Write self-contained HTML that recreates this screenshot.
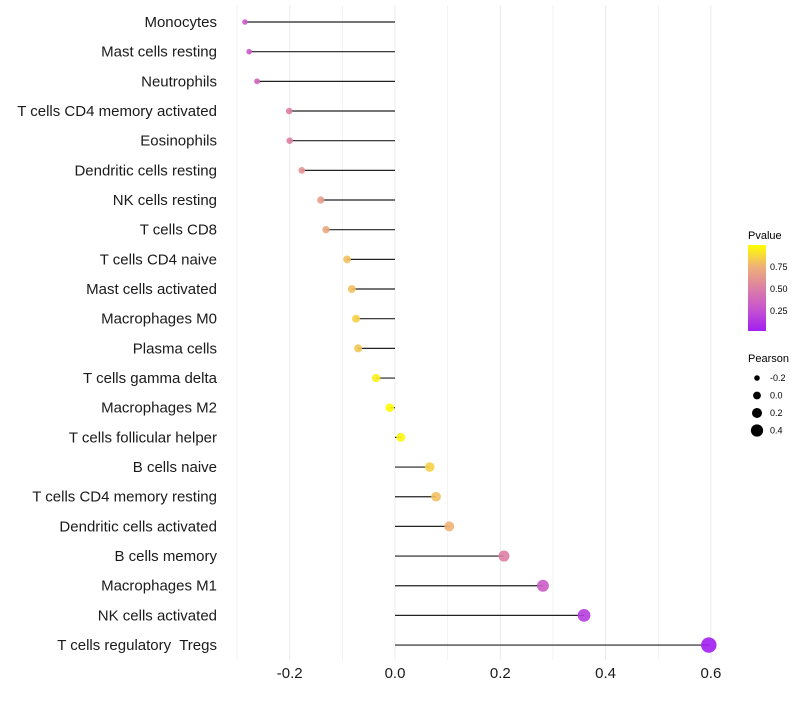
<!DOCTYPE html>
<html><head><meta charset="utf-8"><style>
body{margin:0;background:#fff;font-family:"Liberation Sans",sans-serif}
text{white-space:pre}
</style></head><body>
<svg id="chart" width="800" height="700" xmlns="http://www.w3.org/2000/svg">
<defs><linearGradient id="pg" x1="0" y1="1" x2="0" y2="0">
<stop offset="0" stop-color="#a21ff0"/><stop offset="0.25" stop-color="#c653d0"/><stop offset="0.5" stop-color="#dc80a4"/><stop offset="0.75" stop-color="#efb177"/><stop offset="1" stop-color="#ffff00"/></linearGradient></defs>
<g id="grid"></g><g id="marks"></g><g id="labels"></g><g id="ticks"></g>
<g>
<text x="748" y="239" font-size="11">Pvalue</text>
<rect x="748" y="245" width="18" height="86" fill="url(#pg)"/>
<text x="770" y="270" font-size="9">0.75</text>
<text x="770" y="292" font-size="9">0.50</text>
<text x="770" y="314" font-size="9">0.25</text>
</g>
<g id="sizeLegend">
<text x="748" y="362" font-size="11">Pearson</text>
</g>
</svg>
<script>
const categories=["Monocytes","Mast cells resting","Neutrophils","T cells CD4 memory activated","Eosinophils","Dendritic cells resting","NK cells resting","T cells CD8","T cells CD4 naive","Mast cells activated","Macrophages M0","Plasma cells","T cells gamma delta","Macrophages M2","T cells follicular helper","B cells naive","T cells CD4 memory resting","Dendritic cells activated","B cells memory","Macrophages M1","NK cells activated","T cells regulatory  Tregs"];
const pearson=[-0.285,-0.277,-0.262,-0.201,-0.2,-0.177,-0.141,-0.131,-0.091,-0.082,-0.074,-0.070,-0.036,-0.010,0.011,0.066,0.078,0.103,0.207,0.281,0.359,0.596];
const pvalues=[0.3,0.3,0.35,0.5,0.5,0.6,0.65,0.7,0.8,0.8,0.85,0.82,0.95,0.98,0.97,0.85,0.8,0.75,0.5,0.3,0.15,0.01];
const xTicks=[-0.2,0,0.2,0.4,0.6];
const xTickLabels=["-0.2","0.0","0.2","0.4","0.6"];
const sizeBreaks=[-0.2,0,0.2,0.4];
const NS="http://www.w3.org/2000/svg";
const x=v=>395+v*526.5;
const y=i=>22+i*29.67;
const r=p=>Math.max(1.8,4.4+5.6*p);
const stops=[[0,[160,28,242]],[0.25,[198,83,208]],[0.5,[220,128,164]],[0.75,[239,177,119]],[1,[255,255,0]]];
function col(p){for(let k=1;k<stops.length;k++){if(p<=stops[k][0]){const a=stops[k-1],b=stops[k],t=(p-a[0])/(b[0]-a[0]);return "rgb("+a[1].map((c,j)=>Math.round(c+(b[1][j]-c)*t)).join(",")+")";}}return "rgb(255,255,0)";}
function mk(t,at,parent){const e=document.createElementNS(NS,t);for(const k in at)e.setAttribute(k,at[k]);parent.appendChild(e);return e;}
const grid=document.getElementById('grid'),marks=document.getElementById('marks'),labels=document.getElementById('labels'),ticks=document.getElementById('ticks');
for(let g=-0.3;g<=0.61;g+=0.1){const l=mk('line',{x1:x(g),x2:x(g),y1:5,y2:660,stroke:'#ebebeb','stroke-width':Math.abs(Math.round(g*10))%2==0?1:0.6},grid);

}
categories.forEach((c,i)=>{
 const s=mk('line',{x1:x(0),x2:x(pearson[i]),y1:y(i),y2:y(i),stroke:'#222','stroke-width':1.2},marks);
 
 
 const d=mk('circle',{cx:x(pearson[i]),cy:y(i),r:r(pearson[i]),fill:col(pvalues[i]),opacity:0.9},marks);
 
 
 const t=mk('text',{x:217,y:y(i)+5,'font-size':15,'text-anchor':'end',fill:'#1a1a1a'},labels);t.textContent=c;
 
 
});
xTicks.forEach((v,i)=>{const t=mk('text',{x:x(v),y:678,'font-size':15,'text-anchor':'middle',fill:'#1a1a1a'},ticks);t.textContent=xTickLabels[i];
 
 });
const sl=document.getElementById('sizeLegend');
sizeBreaks.forEach((p,i)=>{const c=mk('circle',{cx:757,cy:378+i*17.5,r:r(p)-0.5,fill:'#000'},sl);
 
 
 const t=mk('text',{x:770,y:381+i*17.5,'font-size':9},sl);t.textContent=p.toFixed(1);
 
 });
</script>
</body></html>
